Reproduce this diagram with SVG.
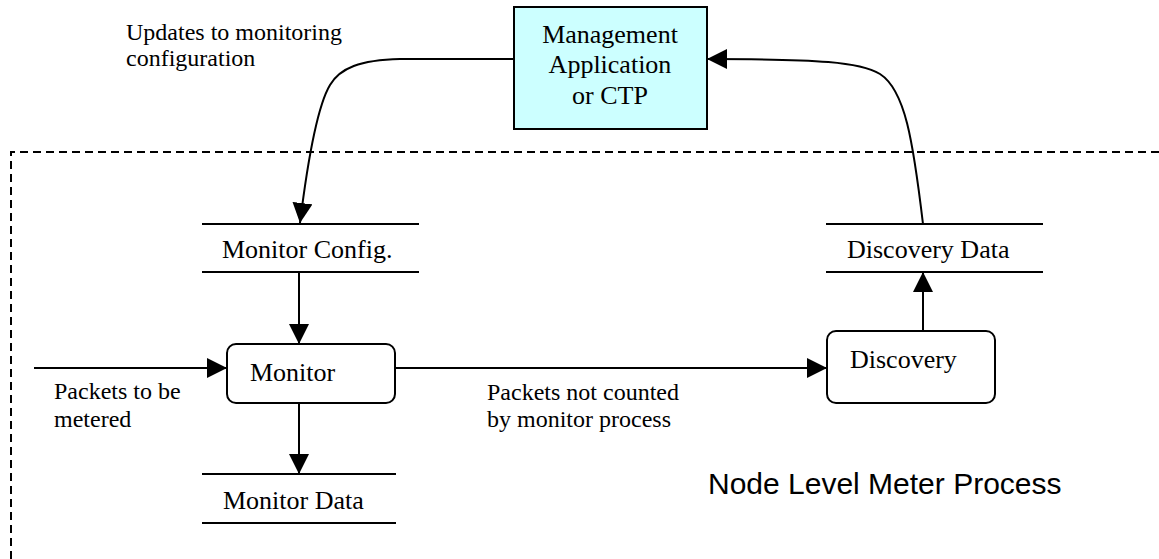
<svg xmlns="http://www.w3.org/2000/svg" width="1159" height="559" viewBox="0 0 1159 559">
  <style>
    .line { stroke: #000; stroke-width: 2; fill: none; }
    .boundary { stroke: #000; stroke-width: 2; fill: none; stroke-dasharray: 8 5; }
    .process { stroke: #000; stroke-width: 2; fill: #fff; }
    .app { stroke: #000; stroke-width: 2; fill: #ccffff; }
    .node-text { font-family: "Liberation Serif", "Times New Roman", serif; font-size: 26px; fill: #000; }
    .label { font-family: "Liberation Serif", "Times New Roman", serif; font-size: 24px; fill: #000; }
    .title { font-family: "Liberation Sans", Arial, sans-serif; font-size: 30px; fill: #000; }
  </style>
  <defs>
    <marker id="arrow" markerUnits="userSpaceOnUse" markerWidth="20" markerHeight="20" refX="20" refY="10" orient="auto">
      <path d="M0,0 L20,10 L0,20 z" fill="#000"/>
    </marker>
  </defs>

  <rect width="1159" height="559" fill="#fff"/>

  <!-- node-level meter boundary -->
  <path class="boundary" d="M11,559 L11,152 L1159,152"/>

  <!-- management application -->
  <g id="management">
    <rect class="app" x="514" y="7" width="193" height="122"/>
    <text class="node-text" x="610" y="43" text-anchor="middle">Management</text>
    <text class="node-text" x="610" y="73" text-anchor="middle">Application</text>
    <text class="node-text" x="610" y="104" text-anchor="middle">or CTP</text>
  </g>

  <!-- data stores -->
  <g id="monitor-config">
    <line class="line" x1="202" y1="224" x2="419" y2="224"/>
    <line class="line" x1="202" y1="272" x2="419" y2="272"/>
    <text class="node-text" x="222" y="258">Monitor Config.</text>
  </g>
  <g id="monitor-data">
    <line class="line" x1="202" y1="474" x2="396" y2="474"/>
    <line class="line" x1="202" y1="523" x2="396" y2="523"/>
    <text class="node-text" x="223" y="509">Monitor Data</text>
  </g>
  <g id="discovery-data">
    <line class="line" x1="826" y1="224" x2="1043" y2="224"/>
    <line class="line" x1="826" y1="272" x2="1043" y2="272"/>
    <text class="node-text" x="847" y="258">Discovery Data</text>
  </g>

  <!-- processes -->
  <g id="monitor">
    <rect class="process" x="227" y="344" width="168" height="59" rx="9" ry="9"/>
    <text class="node-text" x="250" y="381">Monitor</text>
  </g>
  <g id="discovery">
    <rect class="process" x="827" y="331" width="168" height="72" rx="9" ry="9"/>
    <text class="node-text" x="850" y="368">Discovery</text>
  </g>

  <!-- connectors -->
  <g id="connectors">
    <path class="line" d="M514,59 L400,59 C360,60 340,68 330,85 C318,105 309,150 300,223" marker-end="url(#arrow)"/>
    <path class="line" d="M923,224 C913,140 905,90 880,74 C860,62 820,59 707,59" marker-end="url(#arrow)"/>
    <path class="line" d="M299,272 L299,344" marker-end="url(#arrow)"/>
    <path class="line" d="M34,368 L227,368" marker-end="url(#arrow)"/>
    <path class="line" d="M395,368 L827,368" marker-end="url(#arrow)"/>
    <path class="line" d="M299,403 L299,474" marker-end="url(#arrow)"/>
    <path class="line" d="M923,331 L923,272" marker-end="url(#arrow)"/>
  </g>

  <!-- labels -->
  <text class="label" x="126" y="40">Updates to monitoring</text>
  <text class="label" x="126" y="66">configuration</text>
  <text class="label" x="54" y="399">Packets to be</text>
  <text class="label" x="54" y="427">metered</text>
  <text class="label" x="487" y="400">Packets not counted</text>
  <text class="label" x="487" y="427">by monitor process</text>
  <text class="title" x="708" y="494">Node Level Meter Process</text>
</svg>
